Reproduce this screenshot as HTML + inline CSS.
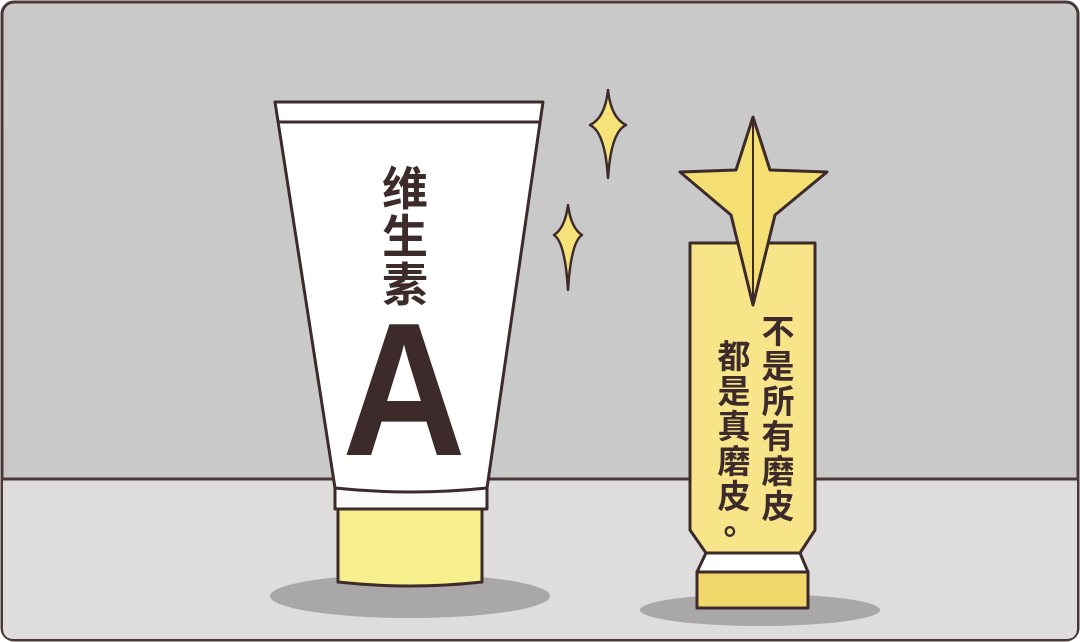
<!DOCTYPE html>
<html><head><meta charset="utf-8"><style>
html,body{margin:0;padding:0;width:1080px;height:642px;overflow:hidden;background:#fff}
svg{display:block}
text{font-family:"Liberation Sans","Noto Sans CJK SC",sans-serif;font-weight:bold;fill:#3d2b2b}
</style></head><body>
<svg width="1080" height="642" viewBox="0 0 1080 642">
<rect x="2" y="2" width="1076" height="638" rx="12" fill="#c9c9c9" stroke="#4a3838" stroke-width="3"/>
<path d="M3 479 H1077 V628 Q1077 639 1066 639 H14 Q3 639 3 628 Z" fill="#dedcdd"/>
<line x1="3" y1="479" x2="1077" y2="479" stroke="#4a3838" stroke-width="3"/>
<ellipse cx="410" cy="596" rx="140" ry="22" fill="#a9a7a8"/>
<ellipse cx="760" cy="610" rx="120" ry="16" fill="#a9a7a8"/>
<g stroke="#3d2b2b" stroke-width="3" stroke-linejoin="round">
<path d="M338 508 H482 V582 Q410 590 338 582 Z" fill="#f7ee8e"/>
<path d="M335 487 H487 V509 H335 Z" fill="#fafafa"/>
<path d="M275 102 H543 L487 488 Q410 496 335 488 Z" fill="#ffffff"/>
<line x1="278" y1="122" x2="540" y2="122"/>
</g>
<text x="405" y="205" font-size="46" text-anchor="middle">维</text>
<text x="405" y="253" font-size="46" text-anchor="middle">生</text>
<text x="405" y="301" font-size="46" text-anchor="middle">素</text>
<text transform="translate(404 455) scale(0.9 1)" x="0" y="0" font-size="190" text-anchor="middle">A</text>
<g fill="#f7e27a" stroke="#3d2b2b" stroke-width="2.5" stroke-linejoin="round">
<path d="M608 90 Q611 118 626 125 Q611 132 608 178 Q605 132 590 125 Q605 118 608 90 Z"/>
<path d="M568 205 Q571 228 582 235 Q571 242 568 290 Q565 242 554 235 Q565 228 568 205 Z"/>
</g>
<g stroke="#3d2b2b" stroke-width="3" stroke-linejoin="round">
<path d="M697 572 H808 V608 H697 Z" fill="#f2d76a"/>
<path d="M706 553 H800 L808 572 H697 Z" fill="#ffffff"/>
<path d="M690 243 H815 V530 L800 553 H706 L690 530 Z" fill="#f8e58a"/>
<path d="M753 117 L770 170 L827 172 L775 215 L753 305 L731 215 L680 172 L736 170 Z" fill="#f5df72"/>
<line x1="753" y1="117" x2="753" y2="305" stroke-width="2"/>
</g>
<g font-size="33">
<text x="778" y="343" text-anchor="middle">不</text>
<text x="778" y="378" text-anchor="middle">是</text>
<text x="778" y="413" text-anchor="middle">所</text>
<text x="778" y="448" text-anchor="middle">有</text>
<text x="778" y="483" text-anchor="middle">磨</text>
<text x="778" y="518" text-anchor="middle">皮</text>
<text x="734" y="368" text-anchor="middle">都</text>
<text x="734" y="403" text-anchor="middle">是</text>
<text x="734" y="438" text-anchor="middle">真</text>
<text x="734" y="473" text-anchor="middle">磨</text>
<text x="734" y="508" text-anchor="middle">皮</text>
<text x="740" y="534" text-anchor="middle">。</text>
</g>
</svg>
</body></html>
